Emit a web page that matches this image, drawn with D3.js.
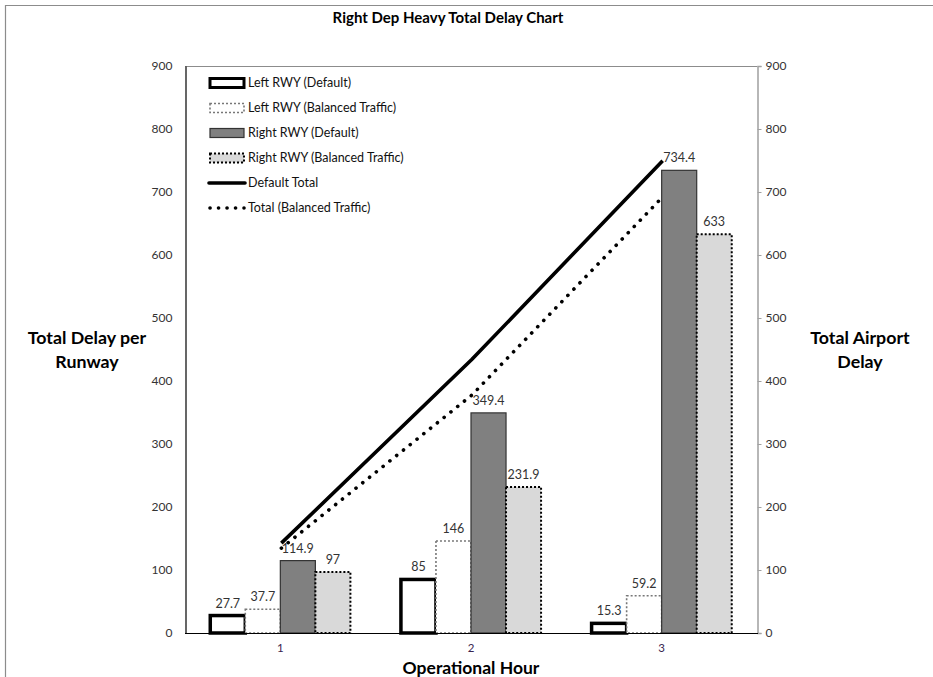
<!DOCTYPE html>
<html>
<head>
<meta charset="utf-8">
<script src="https://cdn.jsdelivr.net/npm/d3@7/dist/d3.min.js"></script>
<style>
  html, body { margin: 0; padding: 0; background: #fff; }
  svg { display: block; }
  text { font-family: Lato, "Open Sans", sans-serif; }
</style>
</head>
<body>
<svg id="chart" width="933" height="677"></svg>
<script>
// Operational hours on the x axis
const hours = ["1", "2", "3"];

// Per-runway delay series
const leftDefault = [27.7, 85, 15.3];
const leftBalanced = [37.7, 146, 59.2];
const rightDefault = [114.9, 349.4, 734.4];
const rightBalanced = [97, 231.9, 633];

// Airport totals (left + right)
const defaultTotal = [142.6, 434.4, 749.7];
const balancedTotal = [134.7, 377.9, 692.2];

// Axis ticks
const yTicks = [0, 100, 200, 300, 400, 500, 600, 700, 800, 900];

const barSeries = [
  { name: "Left RWY (Default)", values: leftDefault, fill: "#ffffff", stroke: "#000", width: 3.5, dash: null },
  { name: "Left RWY (Balanced Traffic)", values: leftBalanced, fill: "#ffffff", stroke: "#777", width: 1.6, dash: "2,2" },
  { name: "Right RWY (Default)", values: rightDefault, fill: "#808080", stroke: "#333", width: 1.2, dash: null },
  { name: "Right RWY (Balanced Traffic)", values: rightBalanced, fill: "#d9d9d9", stroke: "#000", width: 2, dash: "2,2" }
];
const lineSeries = [
  { name: "Default Total", values: defaultTotal, dots: false },
  { name: "Total (Balanced Traffic)", values: balancedTotal, dots: true }
];

const svg = d3.select("#chart");
const plot = { left: 185, right: 757, top: 66, bottom: 633 };

// Outer chart frame
svg.append("path")
  .attr("d", "M5.5,700 V5.5 H940")
  .attr("fill", "none").attr("stroke", "#8c8c8c").attr("stroke-width", 1.2);

const x0 = d3.scaleBand().domain(hours)
  .range([plot.left, plot.right]).paddingInner(0.265).paddingOuter(0.1325);
const x1 = d3.scaleBand().domain(barSeries.map(d => d.name))
  .range([0, x0.bandwidth()]);
const yL = d3.scaleLinear().domain([0, 900]).range([plot.bottom, plot.top]);
const yR = d3.scaleLinear().domain([0, 900]).range([plot.bottom, plot.top]);

// Top border and right axis (gray)
svg.append("line").attr("x1", plot.left).attr("x2", plot.right)
  .attr("y1", plot.top + 0.5).attr("y2", plot.top + 0.5)
  .attr("stroke", "#8c8c8c").attr("stroke-width", 1.2);

const rightAxis = svg.append("g")
  .attr("transform", `translate(${plot.right + 0.5},0)`)
  .call(d3.axisRight(yR).tickValues(yTicks).tickSize(4).tickPadding(5).tickFormat(d3.format("d")));
rightAxis.select(".domain").attr("stroke", "#a0a0a0").attr("stroke-width", 1.5);
rightAxis.selectAll(".tick line").attr("stroke", "#a0a0a0");
rightAxis.selectAll(".tick text").attr("fill", "#333").style("font-size", "12px").attr("x", 8);

// Left axis (black, no tick marks)
const leftAxis = svg.append("g")
  .attr("transform", `translate(${plot.left + 0.5},0)`)
  .call(d3.axisLeft(yL).tickValues(yTicks).tickSize(0).tickPadding(13).tickFormat(d3.format("d")));
leftAxis.select(".domain").attr("stroke", "#000").attr("stroke-width", 1.2);
leftAxis.selectAll(".tick text").attr("fill", "#333").style("font-size", "12px");

// Bars
barSeries.forEach(s => {
  const g = svg.append("g");
  g.selectAll("rect").data(s.values).join("rect")
    .attr("x", (d, i) => x0(hours[i]) + x1(s.name))
    .attr("y", d => yL(d))
    .attr("width", x1.bandwidth())
    .attr("height", d => yL(0) - yL(d))
    .attr("fill", s.fill)
    .attr("stroke", s.stroke)
    .attr("stroke-width", s.width)
    .attr("stroke-dasharray", s.dash);
});

// Bottom axis line
svg.append("line").attr("x1", plot.left).attr("x2", plot.right + 1)
  .attr("y1", plot.bottom + 0.5).attr("y2", plot.bottom + 0.5)
  .attr("stroke", "#000").attr("stroke-width", 1.2);

// Total lines at category centres
const line = d3.line()
  .x((d, i) => x0(hours[i]) + x0.bandwidth() / 2 + 1)
  .y(d => yR(d));
lineSeries.forEach(s => {
  svg.append("path").datum(s.values)
    .attr("d", line)
    .attr("fill", "none")
    .attr("stroke", "#000")
    .attr("stroke-width", 3.6)
    .attr("stroke-linecap", s.dots ? "round" : "butt")
    .attr("stroke-dasharray", s.dots ? "0.1,8.6" : null);
});

// Bar value labels
barSeries.forEach(s => {
  svg.append("g").selectAll("text").data(s.values).join("text")
    .attr("x", (d, i) => x0(hours[i]) + x1(s.name) + x1.bandwidth() / 2)
    .attr("y", d => yL(d) - 8)
    .attr("text-anchor", "middle")
    .attr("fill", "#333")
    .style("font-size", "12.5px")
    .text(d => d);
});

// X tick labels
svg.append("g").selectAll("text").data(hours).join("text")
  .attr("x", d => x0(d) + x0.bandwidth() / 2)
  .attr("y", 652)
  .attr("text-anchor", "middle")
  .attr("fill", "#3a2550")
  .style("font-size", "11.5px")
  .text(d => d);

// Titles
svg.append("text").attr("x", 448).attr("y", 23).attr("text-anchor", "middle")
  .style("font-size", "15px").style("font-weight", "bold").text("Right Dep Heavy Total Delay Chart");
svg.append("text").attr("x", 471).attr("y", 674).attr("text-anchor", "middle")
  .style("font-size", "17.5px").style("font-weight", "bold").text("Operational Hour");

const leftTitle = svg.append("text").attr("text-anchor", "middle")
  .style("font-size", "17.8px").style("font-weight", "bold");
leftTitle.append("tspan").attr("x", 87).attr("y", 344).text("Total Delay per");
leftTitle.append("tspan").attr("x", 87).attr("y", 368).text("Runway");

const rightTitle = svg.append("text").attr("text-anchor", "middle")
  .style("font-size", "17.8px").style("font-weight", "bold");
rightTitle.append("tspan").attr("x", 860).attr("y", 344).text("Total Airport");
rightTitle.append("tspan").attr("x", 860).attr("y", 368).text("Delay");

// Legend
const legend = svg.append("g");
const rowY = i => 83 + i * 25;
barSeries.forEach((s, i) => {
  legend.append("rect")
    .attr("x", 210).attr("y", rowY(i) - 4.5)
    .attr("width", 34).attr("height", 9)
    .attr("fill", s.fill).attr("stroke", s.stroke)
    .attr("stroke-width", i === 0 ? 3 : s.width)
    .attr("stroke-dasharray", s.dash);
  legend.append("text").attr("x", 248).attr("y", rowY(i) + 4)
    .attr("fill", "#111").style("font-size", "12.5px").text(s.name);
});
lineSeries.forEach((s, j) => {
  const i = j + 4;
  legend.append("line")
    .attr("x1", s.dots ? 210 : 209).attr("x2", s.dots ? 244 : 245)
    .attr("y1", rowY(i)).attr("y2", rowY(i))
    .attr("stroke", "#000").attr("stroke-width", 3.6)
    .attr("stroke-linecap", "round")
    .attr("stroke-dasharray", s.dots ? "0.1,8.4" : null);
  legend.append("text").attr("x", 248).attr("y", rowY(i) + 4)
    .attr("fill", "#111").style("font-size", "12.5px").text(s.name);
});
</script>
</body>
</html>
